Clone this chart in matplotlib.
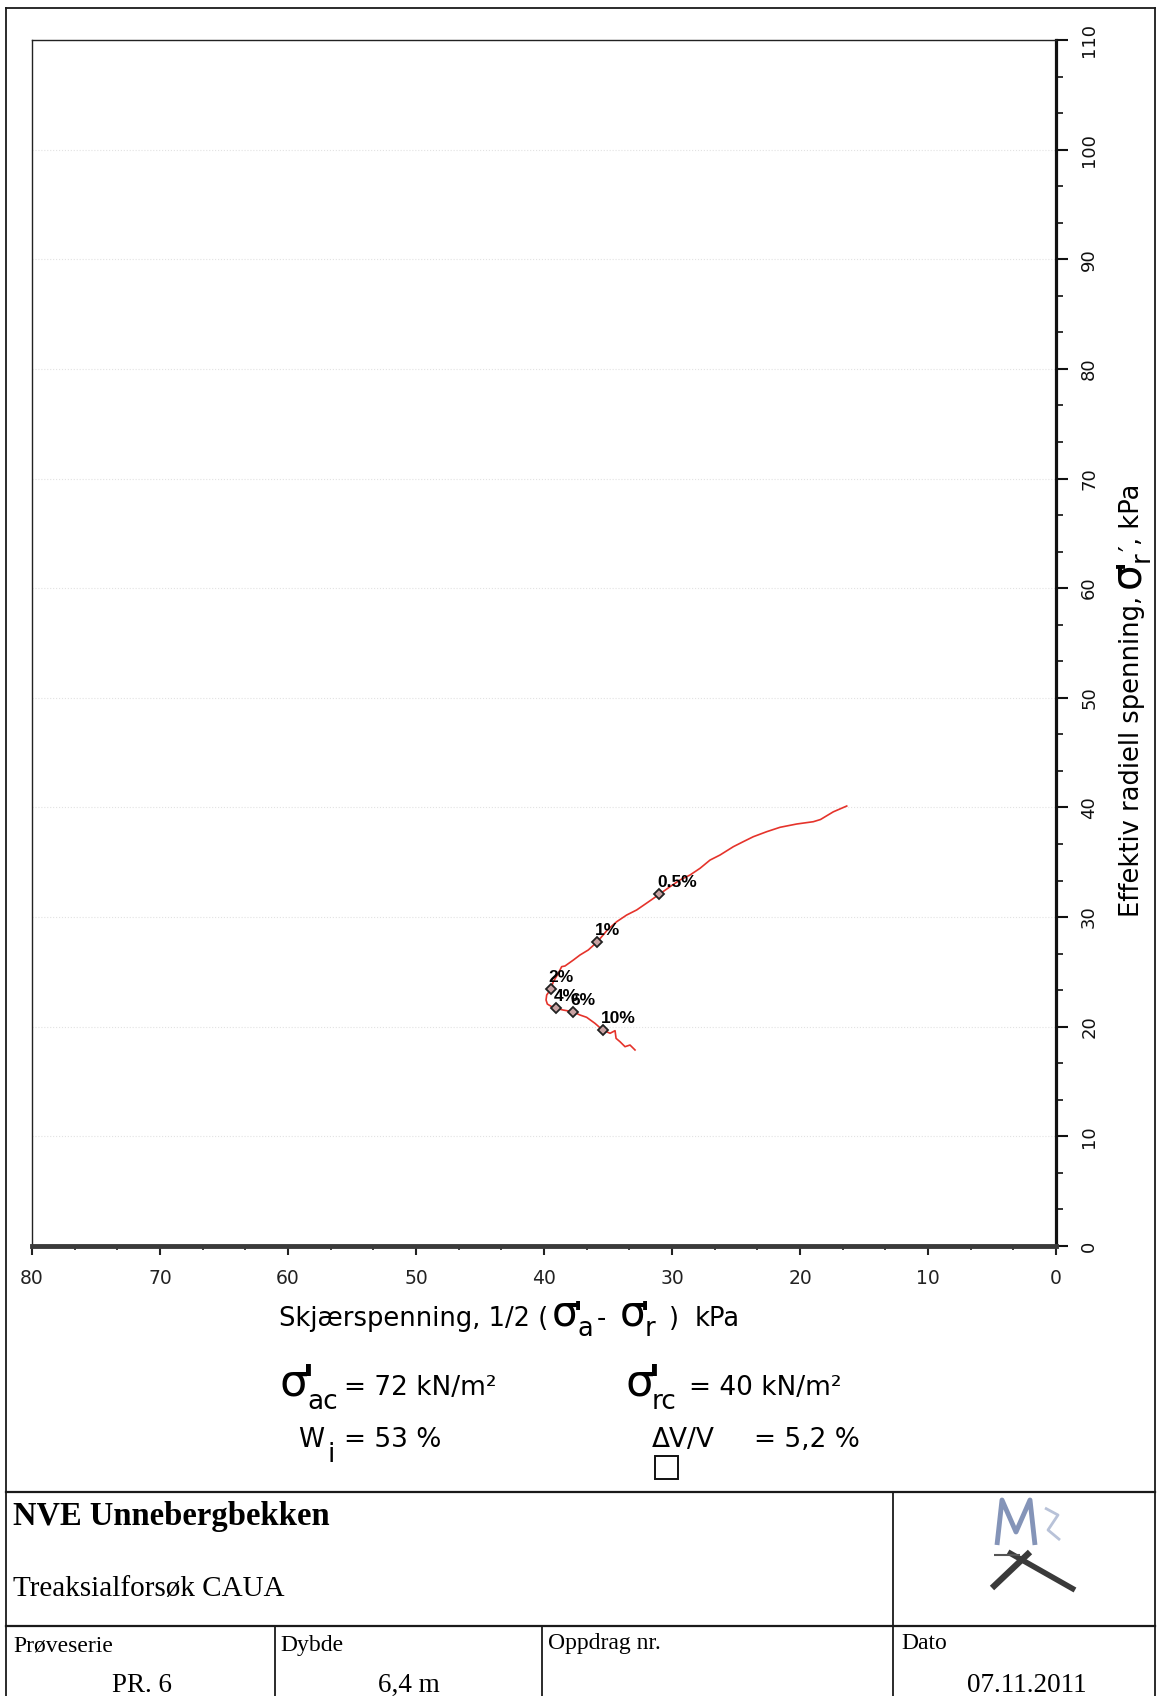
import matplotlib
matplotlib.use('Agg')
import matplotlib.pyplot as plt
from matplotlib.lines import Line2D
from matplotlib.patches import Rectangle
from matplotlib.ticker import MultipleLocator

# ---------------- data ----------------
shear_kpa = [16.35, 17.40, 18.40, 18.96, 20.26, 21.56, 22.60, 23.65, 24.43, 25.21,
             26.25, 27.03, 27.81, 28.59, 29.38, 30.16, 30.99, 32.00, 32.76, 33.54,
             34.32, 35.05, 35.83, 36.54, 37.19, 37.71, 38.36, 38.62, 38.88, 39.27,
             39.48, 39.79, 39.84, 39.74, 39.40, 39.06, 38.49, 37.76, 37.19, 36.67,
             36.02, 35.42, 34.84, 34.45, 34.37, 34.06, 33.67, 33.28, 32.89]
sigma_r_kpa = [40.13, 39.60, 38.90, 38.70, 38.49, 38.19, 37.79, 37.33, 36.88, 36.42,
               35.66, 35.20, 34.45, 33.84, 33.38, 32.77, 32.08, 31.26, 30.65, 30.19,
               29.58, 28.82, 27.75, 27.00, 26.54, 26.08, 25.54, 25.48, 24.87, 24.11,
               23.41, 22.89, 22.44, 22.07, 21.83, 21.68, 21.52, 21.37, 21.07, 20.86,
               20.31, 19.70, 19.40, 19.64, 18.94, 18.63, 18.18, 18.33, 17.88]
strain_labels = ["0.5%", "1%", "2%", "4%", "6%", "10%"]
strain_x = [30.99, 35.83, 39.48, 39.06, 37.76, 35.42]
strain_y = [32.08, 27.75, 23.41, 21.68, 21.37, 19.70]
x_ticks = [80, 70, 60, 50, 40, 30, 20, 10, 0]
y_ticks = [0, 10, 20, 30, 40, 50, 60, 70, 80, 90, 100, 110]

W, H = 1157, 1696
plt.rcParams['font.family'] = ['DejaVu Sans']

fig = plt.figure(figsize=(W / 100, H / 100), dpi=100)
fig.patch.set_facecolor('white')

ax = fig.add_axes([32 / W, 1 - 1246 / H, 1024 / W, 1206 / H])
ax.plot(shear_kpa, sigma_r_kpa, color='#e5332b', lw=1.2, zorder=3)
ax.plot(strain_x, strain_y, ls='none', marker='D', ms=5.5, mfc='#c9a3a3',
        mec='#222222', mew=1.3, zorder=4)
for lab, x, y in zip(strain_labels, strain_x, strain_y):
    ax.annotate(lab, (x, y), xytext=(-1.5, 3), textcoords='offset points',
                fontsize=12.5, fontweight='bold', family='Liberation Sans',
                ha='left', va='bottom', zorder=5)

ax.set_xlim(80, 0)
ax.set_ylim(0, 110)
ax.set_xticks(x_ticks)
ax.set_xticklabels([str(v) for v in x_ticks])
ax.set_yticks(y_ticks)
ax.set_yticklabels([str(v) for v in y_ticks])
ax.xaxis.set_minor_locator(MultipleLocator(10 / 3))
ax.yaxis.set_minor_locator(MultipleLocator(10 / 3))
ax.yaxis.tick_right()
ax.tick_params(axis='x', which='major', direction='out', length=6.7, width=1.5,
               pad=10, labelsize=13.5, colors='#222222')
ax.tick_params(axis='x', which='minor', direction='out', length=3, width=1.2, colors='#222222')
ax.tick_params(axis='y', which='major', direction='out', length=8.4, width=1.5,
               pad=9, labelsize=13, labelrotation=90, colors='#111111')
ax.tick_params(axis='y', which='minor', direction='out', length=4.8, width=1.2, colors='#111111')
for l in ax.get_yticklabels():
    l.set_va('center')
ax.grid(axis='y', which='major', color='#e2e2e2', ls=':', lw=0.8)
ax.spines['bottom'].set_linewidth(3.5)
ax.spines['bottom'].set_color('#3a3a3a')
ax.spines['right'].set_linewidth(2.3)
ax.spines['right'].set_color('#111111')
ax.spines['top'].set_linewidth(1.0)
ax.spines['left'].set_linewidth(1.0)
ax.spines['top'].set_color('#222222')
ax.spines['left'].set_color('#222222')

renderer = fig.canvas.get_renderer()


def put(x, y, s, size, rot=0, **kw):
    return fig.text(x / W, 1 - y / H, s, fontsize=size, ha=kw.pop('ha', 'left'),
                    va='baseline', rotation=rot, rotation_mode='anchor', **kw)


def adv(t, rot=0):
    bb = t.get_window_extent(renderer)
    return bb.height if rot else bb.width


LS = 18.5   # label font size
SG = 30     # sigma size in labels

# ---------------- x label ----------------
yb = 1326
x = 279
t = put(x, yb, "Skjærspenning, 1/2 (", LS)
x += adv(t) + 4
t = put(x, yb, "σ", SG)
ws = adv(t)
put(x + ws - 6, yb, "'", 24, fontweight='bold')
t = put(x + ws - 1, yb + 10, "a", LS)
x += ws + adv(t)
t = put(x + 2, yb, "-", LS)
x += adv(t) + 16
t = put(x, yb, "σ", SG)
ws = adv(t)
put(x + ws - 6, yb, "'", 24, fontweight='bold')
t = put(x + ws - 1, yb + 10, "r", LS)
x += ws + adv(t)
t = put(x + 12, yb, ")", LS)
x += adv(t) + 12 + 16
put(x, yb, "kPa", LS)

# ---------------- y label (rotated) ----------------
xb = 1139
y = 917
t = put(xb, y, "Effektiv radiell spenning,", LS, rot=90)
y -= adv(t, 1) + 8
t = put(xb, y, "σ", SG, rot=90)
ws = adv(t, 1)
put(xb, y - ws + 6, "'", 24, rot=90, fontweight='bold')
t = put(xb + 10, y - ws + 1, "r", LS, rot=90)
y -= ws + adv(t, 1)
t = put(xb, y, "′", LS, rot=90)
y -= adv(t, 1)
put(xb, y, ", kPa", LS, rot=90)

# ---------------- parameter block ----------------
put(279, 1395, "σ", 32)
put(302, 1395, "'", 30, fontweight='bold')
put(307, 1409, "ac", 19)
put(344, 1395, "= 72 kN/m²", 19)
put(298, 1447, "W", 19)
put(328, 1462, "i", 19)
put(344, 1447, "= 53 %", 19)
put(625, 1395, "σ", 32)
put(648, 1395, "'", 30, fontweight='bold')
put(652, 1409, "rc", 19)
put(689, 1395, "= 40 kN/m²", 19)
put(652, 1447, "ΔV/V", 19)
put(754, 1447, "= 5,2 %", 19)
fig.add_artist(Rectangle((655 / W, 1 - 1479 / H), 23 / W, 23 / H, transform=fig.transFigure,
                         fill=False, lw=1.4, ec='#111111'))


# ---------------- frame and title block ----------------
def hline(y, x1, x2, lw=1.3):
    fig.add_artist(Line2D([x1 / W, x2 / W], [1 - y / H, 1 - y / H], transform=fig.transFigure,
                          color='#1a1a1a', lw=lw))


def vline(x, y1, y2, lw=1.3):
    fig.add_artist(Line2D([x / W, x / W], [1 - y1 / H, 1 - y2 / H], transform=fig.transFigure,
                          color='#1a1a1a', lw=lw))


hline(8, 6, 1155)
vline(6, 8, 1696)
vline(1155, 8, 1696)
hline(1492, 6, 1155, 1.6)
hline(1626, 6, 1155, 1.6)
vline(893, 1492, 1696)
vline(275, 1626, 1696)
vline(542, 1626, 1696)

serif = 'Liberation Serif'
put(13, 1525, "NVE Unnebergbekken", 23.5, family=serif, fontweight='bold')
put(13, 1596, "Treaksialforsøk CAUA", 21, family=serif)
put(13, 1651, "Prøveserie", 17, family=serif)
put(280, 1651, "Dybde", 17, family=serif)
put(548, 1649, "Oppdrag nr.", 17, family=serif)
put(901, 1649, "Dato", 17, family=serif)
put(142, 1692, "PR. 6", 19.5, family=serif, ha='center')
put(409, 1692, "6,4 m", 19.5, family=serif, ha='center')
put(1027, 1692, "07.11.2011", 19.5, family=serif, ha='center')


# simple logo strokes
def stroke(pts, color, lw):
    fig.add_artist(Line2D([p[0] / W for p in pts], [1 - p[1] / H for p in pts],
                          transform=fig.transFigure, color=color, lw=lw, solid_capstyle='butt'))


stroke([(997, 1545), (1002, 1500), (1016, 1532), (1030, 1500), (1035, 1545)], '#8494b8', 3.5)
stroke([(1045, 1508), (1058, 1515), (1048, 1530), (1060, 1540)], '#b8c2d8', 2.0)
stroke([(992, 1588), (1030, 1552)], '#3a3a3a', 4.5)
stroke([(1008, 1552), (1075, 1590)], '#3a3a3a', 4.0)
stroke([(994, 1555), (1020, 1555)], '#555555', 1.5)

fig.savefig('out.png', dpi=100, facecolor='white')
